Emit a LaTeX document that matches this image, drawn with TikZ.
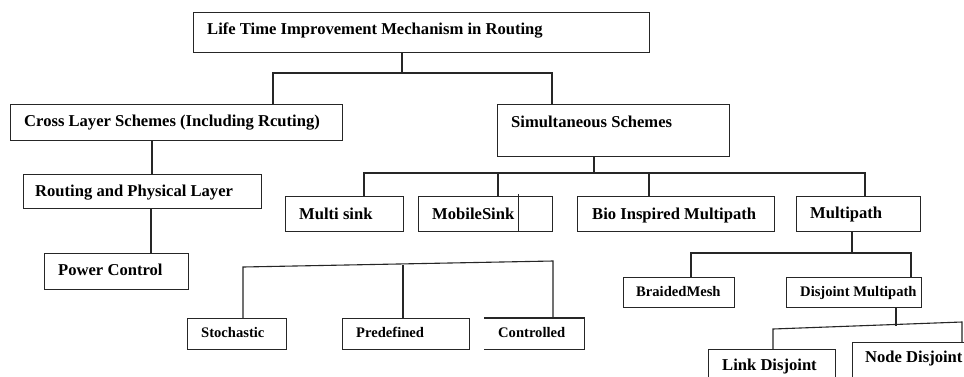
\documentclass[tikz,border=0pt]{standalone}
\usepackage{fontspec}
\setmainfont{Liberation Serif}
\begin{document}
\begin{tikzpicture}[x=1pt,y=-1pt,
  box/.style={draw=black!85, line width=1.1pt, fill=white, rectangle, inner sep=0pt, anchor=north west},
  openbox/.style={rectangle, inner sep=0pt, anchor=north west},
  lbl/.style={anchor=base west, inner sep=0pt, font=\bfseries\fontsize{16.6}{19}\selectfont},
  slbl/.style={anchor=base west, inner sep=0pt, font=\bfseries\fontsize{14.6}{17}\selectfont},
  conn/.style={draw=black!85, line width=1.1pt}]
\useasboundingbox (0,0) rectangle (964,376);
\clip (0,0) rectangle (964,376);
\fill[white] (0,0) rectangle (964,376);

% connector junctions
\coordinate (b1) at (402,73);
\coordinate (b1l) at (273,73);
\coordinate (b1r) at (552,73);
\coordinate (b2) at (594,173);
\coordinate (b2a) at (364,173);
\coordinate (b2b) at (498,173);
\coordinate (b2c) at (649,173);
\coordinate (b2d) at (865,173);
\coordinate (c1) at (152,140);
\coordinate (c2) at (151,208);
\coordinate (s1) at (243,267);
\coordinate (s2) at (403,265);
\coordinate (s3) at (553,261);
\coordinate (m0) at (852,253);
\coordinate (m1) at (691,253);
\coordinate (m2) at (911,253);
\coordinate (d0) at (896,326);
\coordinate (d1) at (773,329);
\coordinate (d2) at (962,322);
\coordinate (tick) at (518,194);

% boxes
\node[box, minimum width=456pt, minimum height=40pt] (top) at (193,12) {};
\node[box, minimum width=332pt, minimum height=36pt] (cross) at (10,104) {};
\node[box, minimum width=232pt, minimum height=52pt] (simul) at (497,104) {};
\node[box, minimum width=238pt, minimum height=34pt] (routing) at (23,174) {};
\node[box, minimum width=144pt, minimum height=36pt] (power) at (44,253) {};
\node[box, minimum width=118pt, minimum height=35pt] (msink) at (285,196) {};
\node[box, minimum width=134pt, minimum height=35pt] (mobile) at (418,196) {};
\node[box, minimum width=197pt, minimum height=35pt] (bio) at (577,196) {};
\node[box, minimum width=124pt, minimum height=35pt] (multipath) at (796,196) {};
\node[box, minimum width=99pt, minimum height=31pt] (stoch) at (187,318) {};
\node[box, minimum width=127pt, minimum height=31pt] (predef) at (342,318) {};
\node[openbox, minimum width=100pt, minimum height=31pt] (control) at (484,318) {};
\node[box, minimum width=111pt, minimum height=30pt] (braided) at (623,277) {};
\node[box, minimum width=135pt, minimum height=30pt] (disjoint) at (786,277) {};
\node[box, minimum width=127pt, minimum height=45pt] (link) at (708,349) {};
\node[box, minimum width=130pt, minimum height=50pt] (nodedis) at (852,342) {};

\draw[conn] (control.north west) -- (control.north east) -- (control.south east) -- (control.south west);

\draw[conn] (b1 |- top.south) -- (b1);
\draw[conn] (b1l |- cross.north) -- (b1l) -- (b1r) -- (b1r |- simul.north);
\draw[conn] (b2 |- simul.south) -- (b2);
\draw[conn] (b2a |- msink.north) -- (b2a) -- (b2d) -- (b2d |- multipath.north);
\draw[conn] (b2b) -- (b2b |- mobile.north);
\draw[conn] (b2c) -- (b2c |- bio.north);
\draw[conn] (c1) -- (c1 |- routing.north);
\draw[conn] (c2) -- (c2 |- power.north);
\draw[conn] (s1 |- stoch.north) -- (s1) -- (s3) -- (s3 |- control.north);
\draw[conn] (s2) -- (s2 |- predef.north);
\draw[conn] (m0 |- multipath.south) -- (m0);
\draw[conn] (m1 |- braided.north) -- (m1) -- (m2) -- (m2 |- disjoint.north);
\draw[conn] (d0 |- disjoint.south) -- (d0);
\draw[conn] (d1 |- link.north) -- (d1) -- (d2) -- (d2 |- nodedis.north);
\draw[conn, line width=0.9pt] (tick) -- (tick |- mobile.south);

% labels
\node[lbl] (ttop) at (207,34) {Life Time Improvement Mechanism in Routing};
\node[lbl] (tcross) at (24,126) {Cross Layer Schemes (Including Rcuting)};
\node[lbl] (tsimul) at (511,127) {Simultaneous Schemes};
\node[lbl] (trouting) at (35,196) {Routing and Physical Layer};
\node[lbl] (tpower) at (58,275) {Power Control};
\node[lbl] (tmsink) at (299,219) {Multi sink};
\node[lbl] (tmobile) at (432,219) {MobileSink};
\node[lbl] (tbio) at (592,219) {Bio Inspired Multipath};
\node[lbl] (tmultipath) at (810,218) {Multipath};
\node[slbl] (tstoch) at (201,337) {Stochastic};
\node[slbl] (tpredef) at (356,337) {Predefined};
\node[slbl] (tcontrol) at (498,337) {Controlled};
\node[slbl] (tbraided) at (636,296) {BraidedMesh};
\node[slbl] (tdisjoint) at (800,296) {Disjoint Multipath};
\node[lbl] (tlink) at (722,370) {Link Disjoint};
\node[lbl] (tnodedis) at (865,362) {Node Disjoint};
\end{tikzpicture}
\end{document}
